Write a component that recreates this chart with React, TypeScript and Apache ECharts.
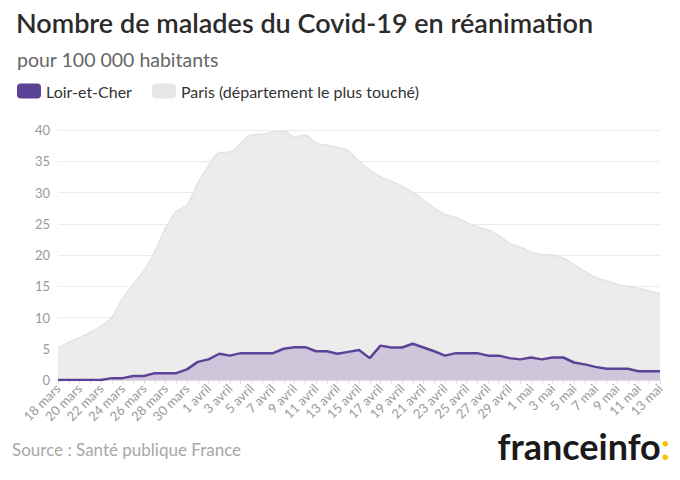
import React, { useEffect, useRef } from "react";
import * as echarts from "echarts";

const dates = [
  "18 mars","19 mars","20 mars","21 mars","22 mars","23 mars","24 mars","25 mars","26 mars","27 mars",
  "28 mars","29 mars","30 mars","31 mars","1 avril","2 avril","3 avril","4 avril","5 avril","6 avril",
  "7 avril","8 avril","9 avril","10 avril","11 avril","12 avril","13 avril","14 avril","15 avril","16 avril",
  "17 avril","18 avril","19 avril","20 avril","21 avril","22 avril","23 avril","24 avril","25 avril","26 avril",
  "27 avril","28 avril","29 avril","30 avril","1 mai","2 mai","3 mai","4 mai","5 mai","6 mai",
  "7 mai","8 mai","9 mai","10 mai","11 mai","12 mai","13 mai",
];

const paris = [
  5.1, 6.0, 6.8, 7.6, 8.6, 10.0, 13.0, 15.3, 17.5, 20.5,
  24.3, 26.9, 28.0, 31.5, 34.3, 36.4, 36.5, 37.9, 39.2, 39.3,
  39.7, 39.9, 38.9, 39.2, 37.9, 37.6, 37.2, 36.7, 35.0, 33.6,
  32.5, 31.8, 31.0, 30.0, 28.8, 27.5, 26.5, 26.0, 25.2, 24.5,
  24.0, 23.1, 21.9, 21.3, 20.5, 20.1, 20.0, 19.5, 18.5, 17.4,
  16.4, 15.9, 15.3, 15.0, 14.7, 14.3, 13.8,
];

const loirEtCher = [
  0, 0, 0, 0, 0, 0.3, 0.3, 0.65, 0.65, 1.1,
  1.1, 1.1, 1.7, 2.9, 3.3, 4.2, 3.9, 4.3, 4.3, 4.3,
  4.3, 5.0, 5.25, 5.25, 4.6, 4.6, 4.2, 4.5, 4.8, 3.5,
  5.5, 5.2, 5.2, 5.8, 5.2, 4.6, 3.9, 4.3, 4.3, 4.3,
  3.9, 3.9, 3.5, 3.3, 3.6, 3.3, 3.6, 3.6, 2.8, 2.5,
  2.1, 1.8, 1.8, 1.8, 1.4, 1.4, 1.4,
];

const yTicks = { min: 0, max: 40, interval: 5 };

const FONT = "Lato, 'Noto Sans', sans-serif";

export default function App() {
  const ref = useRef<HTMLDivElement>(null);
  useEffect(() => {
    if (!ref.current) return;
    const chart = echarts.init(ref.current, null, { renderer: "svg" });
    chart.setOption({
      animation: false,
      backgroundColor: "#ffffff",
      textStyle: { fontFamily: FONT },
      title: [
        {
          text: "Nombre de malades du Covid-19 en réanimation",
          left: 11,
          top: 4,
          textStyle: { fontFamily: FONT, fontSize: 27, fontWeight: 600, color: "#2b2b2b" },
        },
        {
          text: "pour 100 000 habitants",
          left: 12,
          top: 44,
          textStyle: { fontFamily: FONT, fontSize: 19.5, fontWeight: 400, color: "#666666" },
        },
      ],
      legend: {
        left: 12,
        top: 78,
        icon: "roundRect",
        itemWidth: 24,
        itemHeight: 15,
        itemGap: 20,
        data: ["Loir-et-Cher", "Paris (département le plus touché)"],
        textStyle: { fontFamily: FONT, fontSize: 16, color: "#333333" },
      },
      grid: { left: 58, right: 20, top: 130, bottom: 100 },
      xAxis: {
        type: "category",
        data: dates,
        boundaryGap: false,
        axisLine: { lineStyle: { color: "#dddddd" } },
        axisTick: { show: true, interval: 0, length: 4, lineStyle: { color: "#dddddd" } },
        axisLabel: {
          interval: 1,
          rotate: 45,
          color: "#9a9a9a",
          fontSize: 13,
          fontFamily: FONT,
          margin: 6,
        },
      },
      yAxis: {
        type: "value",
        min: yTicks.min,
        max: yTicks.max,
        interval: yTicks.interval,
        axisLine: { show: false },
        axisTick: { show: false },
        axisLabel: { color: "#9a9a9a", fontSize: 13, fontFamily: FONT, margin: 8 },
        splitLine: { lineStyle: { color: "#ececec" } },
      },
      series: [
        {
          name: "Paris (département le plus touché)",
          type: "line",
          data: paris,
          smooth: 0.3,
          symbol: "none",
          itemStyle: { color: "#e6e6e6" },
          lineStyle: { color: "#e3e3e3", width: 1.5 },
          areaStyle: { color: "#ececec", opacity: 1 },
          z: 1,
        },
        {
          name: "Loir-et-Cher",
          type: "line",
          data: loirEtCher,
          smooth: false,
          symbol: "none",
          itemStyle: { color: "#5b4497" },
          lineStyle: { color: "#5b4497", width: 2.5 },
          areaStyle: { color: "#cfc6dc", opacity: 1 },
          z: 2,
        },
      ],
      graphic: [
        {
          type: "text",
          left: 12,
          top: 441,
          style: {
            text: "Source : Santé publique France",
            font: `400 17px ${FONT}`,
            fill: "#a8a8a8",
          },
        },
        {
          type: "text",
          right: 10,
          top: 428,
          style: {
            text: "{a|franceinfo}{b|:}",
            rich: {
              a: { font: `700 36px ${FONT}`, fill: "#1a1a1a" },
              b: { font: `700 36px ${FONT}`, fill: "#f5c400" },
            },
          },
        },
      ],
    });
    return () => chart.dispose();
  }, []);
  return <div ref={ref} style={{ width: 680, height: 480, position: "absolute", left: 0, top: 0 }} />;
}
